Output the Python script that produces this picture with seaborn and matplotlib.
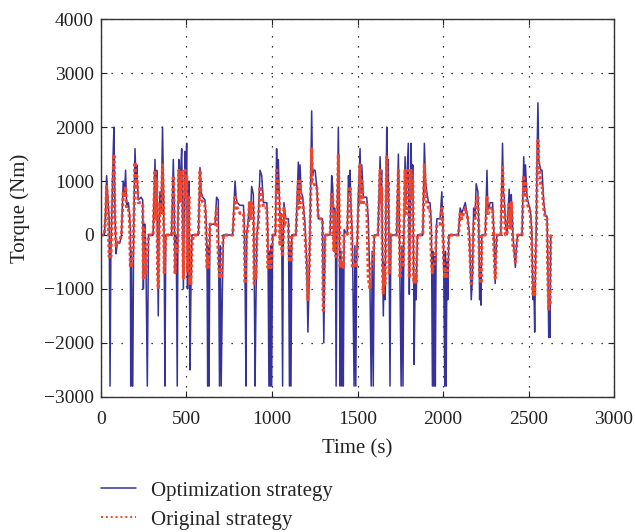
import matplotlib
matplotlib.use("Agg")
import matplotlib.pyplot as plt
import seaborn as sns
import pandas as pd

time_s = [
    0, 20, 28, 33, 40, 48, 53, 58, 65, 72, 76, 82, 88, 95, 110, 120, 130, 138, 144, 150,
    160, 167, 172, 174, 178, 183, 186, 191, 199, 205, 209, 218, 235, 244, 248, 253, 258, 263, 271, 278,
    305, 316, 321, 326, 331, 335, 340, 345, 352, 360, 366, 370, 374, 379, 413, 423, 428, 433, 440, 446,
    450, 455, 462, 468, 472, 477, 482, 487, 491, 496, 501, 506, 511, 515, 518, 521, 526, 532, 540, 570,
    579, 585, 595, 608, 615, 620, 624, 628, 632, 637, 650, 667, 676, 686, 693, 698, 703, 710, 716, 770,
    784, 790, 796, 813, 833, 838, 843, 848, 852, 862, 868, 875, 881, 891, 896, 901, 906, 912, 920, 930,
    940, 950, 970, 976, 982, 986, 990, 994, 998, 1004, 1020, 1027, 1032, 1037, 1042, 1047, 1052, 1057, 1062, 1066,
    1070, 1080, 1096, 1102, 1106, 1111, 1116, 1140, 1154, 1159, 1164, 1170, 1180, 1193, 1203, 1210, 1216, 1222, 1232, 1237,
    1242, 1252, 1262, 1271, 1295, 1300, 1303, 1310, 1340, 1349, 1355, 1362, 1366, 1371, 1375, 1380, 1388, 1393, 1398, 1403,
    1408, 1413, 1417, 1422, 1440, 1447, 1452, 1456, 1462, 1470, 1480, 1485, 1490, 1495, 1500, 1505, 1515, 1520, 1525, 1534,
    1554, 1563, 1573, 1580, 1586, 1592, 1598, 1620, 1632, 1637, 1641, 1646, 1651, 1656, 1661, 1666, 1671, 1676, 1680, 1685,
    1690, 1695, 1729, 1739, 1744, 1749, 1755, 1760, 1766, 1771, 1778, 1783, 1788, 1797, 1803, 1808, 1813, 1818, 1823, 1828,
    1831, 1837, 1843, 1850, 1882, 1891, 1898, 1905, 1915, 1924, 1932, 1938, 1942, 1947, 1951, 1955, 1960, 1964, 1983, 1993,
    1998, 2003, 2010, 2014, 2018, 2023, 2028, 2034, 2090, 2100, 2110, 2120, 2130, 2145, 2155, 2165, 2172, 2179, 2187, 2194,
    2204, 2209, 2214, 2219, 2222, 2227, 2247, 2257, 2262, 2267, 2276, 2290, 2298, 2305, 2310, 2315, 2338, 2348, 2353, 2358,
    2365, 2374, 2381, 2387, 2393, 2399, 2404, 2409, 2416, 2423, 2430, 2436, 2462, 2472, 2477, 2482, 2491, 2511, 2519, 2526,
    2531, 2536, 2541, 2546, 2550, 2555, 2560, 2565, 2572, 2579, 2589, 2599, 2608, 2613, 2618, 2622, 2625, 2630,
]

torque_opt = [
    0, 0, 500, 1100, 700, 300, -2800, -300, 600, 1600, 2000, 400, -350, -150, -150, 0, 1000, 800, 1200, 550,
    600, 400, 100, -2800, -300, -2800, -2800, 0, 1600, 1000, 1300, 650, 700, 650, -1000, 200, 200, -500, -2800, 0,
    0, 1400, 500, 1200, -300, -1500, 200, 800, 400, 2000, 800, -500, -2800, 0, 0, 1400, 600, -700, 0, -2800,
    200, 1400, 1000, 1300, 1600, 400, -1000, 500, 1550, 800, 1700, -1000, 800, 1000, -1200, -2500, -1000, 0, 0, 0,
    1250, 800, 700, 650, 300, -400, -2800, -200, -2800, 200, 200, 200, 700, 650, -2800, -200, -2800, -1000, 0, 0,
    1000, 700, 600, 550, 550, 200, -1000, -2800, 0, 300, 600, 400, 900, 750, -600, -2800, -1300, 0, 300, 1200,
    1100, 600, 600, 0, -2800, -300, -2800, -200, -2800, 0, 0, 1600, 800, 1400, 800, 300, 400, 0, -2800, 0,
    600, 300, 300, -2800, -200, -2800, 0, 0, 1350, 600, 1300, 800, 700, 200, -500, -1800, -1000, 0, 2300, 1100,
    1200, 1200, 900, 300, 300, -1200, -2000, 0, 0, 1100, 900, -300, 500, 0, -2800, 0, 2000, 600, -2800, -300,
    -2800, -500, -2800, 100, 0, 1100, 800, 1200, 500, 0, -2800, -200, -2800, -400, 0, 700, 1600, 800, 1300, 700,
    700, 300, -1000, -2800, -300, -2800, 0, 0, 1450, 800, 1200, -300, -1500, -500, -1200, 500, 2000, 800, 1400, -500,
    -2800, 0, 0, 1500, 400, -1000, -2800, -200, -2800, 0, 1450, 600, 1000, 1700, -1100, 400, 1700, 800, 1300, -600,
    -2400, -800, -1200, 0, 0, 1700, 1000, 800, 600, 600, 200, -2800, -300, -2800, -400, -2800, 0, 300, 300, 800,
    300, -200, -2800, -300, -2800, -500, -1200, 0, 0, 500, 400, 500, 600, 300, 0, -1200, -800, 500, 300, 950,
    800, 200, -1200, -600, -1300, 0, 0, 1200, 500, 500, 600, 600, 0, -900, -300, 0, 0, 1700, 800, 700,
    200, 0, 500, 850, 200, 750, 400, 0, -300, -600, -200, 0, 0, 1450, 800, 1300, 700, 450, 100, -1200,
    -900, -1800, -500, 300, 1500, 2450, 1400, 1300, 1200, 1200, 600, 350, 350, -500, -1900, -1200, -1900, 0,
]

torque_orig = [
    0, 0, 400, 900, 600, -400, -300, -400, 500, 1200, 1500, 300, -200, -150, -100, 0, 800, 700, 900, 500,
    500, 300, -600, -500, -600, -500, -400, 0, 1350, 900, 1100, 600, 600, 550, -800, 100, -600, -700, -300, 0,
    0, 1200, 300, 1000, -700, -1000, 0, 600, 400, 1300, 500, -700, -400, 0, 0, 1100, 500, -700, -200, -300,
    0, 1200, 600, 1000, 1200, 300, -800, 500, 1200, 700, 1100, -700, 600, 700, -900, -800, -900, -200, 0, 0,
    1200, 700, 600, 550, 0, -600, -400, -600, -300, 200, 200, 200, 500, -400, -800, -600, -800, -300, 0, 0,
    700, 600, 500, 400, 400, 0, -900, -400, 0, 200, 600, 300, 600, 500, -900, -600, -800, 0, 200, 900,
    800, 500, 500, -600, -400, -600, -500, -600, -300, 0, 0, 1200, 800, 1000, 600, -200, 400, -300, -400, 0,
    500, 200, 200, -500, -400, -500, 0, 0, 1000, 500, 1000, 600, 600, 0, -600, -1200, -800, 0, 1600, 1000,
    1000, 900, 900, 300, 300, -1400, -1200, 0, 0, 800, 700, -300, 400, -300, -400, 0, 1500, 400, -600, -500,
    -600, -500, -600, 0, 0, 650, 700, 900, 400, -600, -600, -500, -600, -500, 0, 500, 1300, 600, 1000, 600,
    600, -800, -1000, -600, -500, -500, 0, 0, 1200, 600, 900, -600, -1100, -600, -900, 400, 1450, 600, 1000, -700,
    -600, 0, 0, 1200, 300, -800, -500, -500, -600, 0, 1200, 400, 800, 1200, -800, 300, 1200, 700, 1000, -800,
    -900, -700, -900, 0, 0, 1300, 800, 600, 500, 500, -500, -700, -600, -600, -500, -500, 0, 200, 200, 500,
    300, -400, -800, -600, -700, -800, -600, 0, 0, 400, 300, 400, 500, 300, -200, -900, -700, 200, 300, 600,
    700, 100, -800, -600, -900, 0, 0, 700, 400, 400, 500, 500, -300, -800, -300, 0, 0, 1300, 700, 500,
    0, 0, 400, 600, 100, 600, 300, -200, -300, -500, -200, 0, 0, 1100, 700, 1000, 600, 400, -200, -1100,
    -900, -1100, -400, 0, 1200, 1750, 1200, 1200, 900, 900, 500, 300, 300, -800, -1400, -1000, -1300, 0,
]

series_names = ["Optimization strategy", "Original strategy"]
x_ticks = [0, 500, 1000, 1500, 2000, 2500, 3000]
y_ticks = [-3000, -2000, -1000, 0, 1000, 2000, 3000, 4000]

sns.set_theme(style="white")
plt.rcParams["font.family"] = ["Liberation Serif", "DejaVu Serif"]
plt.rcParams["xtick.direction"] = "in"
plt.rcParams["ytick.direction"] = "in"

df = pd.DataFrame({"time": time_s, "opt": torque_opt, "orig": torque_orig})

fig = plt.figure(figsize=(6.35, 5.32), dpi=100)
ax = fig.add_axes([0.159, 0.254, 0.808, 0.710])

sns.lineplot(data=df, x="time", y="opt", ax=ax, color="#36329a", linewidth=1.1,
             sort=False, estimator=None, label=series_names[0])
sns.lineplot(data=df, x="time", y="orig", ax=ax, color="#f2442a", linewidth=2.2,
             sort=False, estimator=None, label=series_names[1])
ax.lines[1].set_linestyle((0, (1, 0.8)))

ax.set_xlim(0, 3000)
ax.set_ylim(-3000, 4000)
ax.set_xticks(x_ticks)
ax.set_yticks(y_ticks)
ax.set_yticklabels(["\u22123000", "\u22122000", "\u22121000", "0", "1000", "2000", "3000", "4000"])
ax.tick_params(axis="both", labelsize=14, colors="#222222", length=4, width=0.8,
               bottom=True, left=True, top=True, right=True, pad=5)
ax.tick_params(axis="x", pad=10)
ax.set_xlabel("Time (s)", fontsize=15, color="#222222", labelpad=8)
ax.set_ylabel("Torque (Nm)", fontsize=15, color="#222222", labelpad=10)
ax.grid(True, color="black", linestyle=(0, (1, 7)), linewidth=0.9)
for sp in ax.spines.values():
    sp.set_color("#333333")
    sp.set_linewidth(1.0)

ax.get_legend().remove()
handles = ax.lines[:2]
leg = fig.legend(handles, series_names, loc="upper left", bbox_to_anchor=(0.129, 0.131),
                 bbox_transform=fig.transFigure, frameon=False, fontsize=15,
                 handlelength=1.7, handletextpad=0.72, labelspacing=0.45)
leg.get_lines()[1].set_linewidth(1.4)
leg.get_lines()[1].set_linestyle((0, (1, 1.5)))

fig.savefig("out.png", dpi=100)
